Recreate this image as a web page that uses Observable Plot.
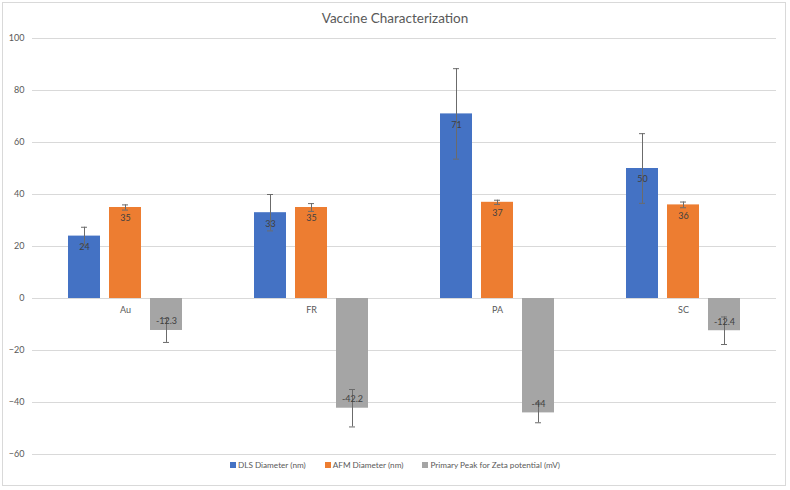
<!DOCTYPE html>
<html>
<head>
<meta charset="utf-8">
<script src="https://cdn.jsdelivr.net/npm/d3@7"></script>
<script src="https://cdn.jsdelivr.net/npm/@observablehq/plot@0.6"></script>
<style>
  html, body { margin: 0; padding: 0; background: #fff; }
  #wrap { position: relative; width: 790px; height: 490px; font-family: Lato, "Open Sans", sans-serif; }
  #border { position: absolute; left: 2px; top: 2px; width: 784px; height: 484px; border: 1px solid #d9d9d9; box-sizing: border-box; }
  #title { position: absolute; left: 0; top: 8px; width: 790px; text-align: center; font-size: 13.5px; color: #595959; line-height: 20px; }
  #chart { position: absolute; left: 0; top: 30px; }
  #legend { position: absolute; left: 0; top: 458px; width: 790px; height: 14px; display: flex; justify-content: center; align-items: center; font-size: 8.2px; color: #595959; }
  .item { display: flex; align-items: center; margin: 0 9.5px; }
  .sw { width: 6px; height: 6px; margin-right: 2px; }
</style>
</head>
<body>
<div id="wrap">
  <div id="border"></div>
  <div id="title">Vaccine Characterization</div>
  <div id="chart"></div>
  <div id="legend"></div>
</div>
<script>
const categories = ["Au", "FR", "PA", "SC"];
const series = ["DLS Diameter (nm)", "AFM Diameter (nm)", "Primary Peak for Zeta potential (mV)"];
const dls = [24, 33, 71, 50];
const dlsErr = [3.4, 7, 17.4, 13.4];
const afm = [35, 35, 37, 36];
const afmErr = [1.0, 1.5, 0.8, 1.1];
const zeta = [-12.3, -42.2, -44, -12.4];
const zetaErr = [4.6, 7.2, 3.8, 5.3];
const yTicks = [-60, -40, -20, 0, 20, 40, 60, 80, 100];
const colors = ["#4472C4", "#ED7D31", "#A5A5A5"];

const values = [dls, afm, zeta];
const errs = [dlsErr, afmErr, zetaErr];
const rows = [];
categories.forEach((c, i) => {
  series.forEach((s, j) => {
    const v = values[j][i], e = errs[j][i];
    rows.push({cat: c, series: s, value: v, lo: v - e, hi: v + e});
  });
});

const chart = Plot.plot({
  width: 790,
  height: 428,
  marginTop: 8,
  marginBottom: 4,
  marginLeft: 30,
  marginRight: 13,
  style: {fontFamily: "Lato, 'Open Sans', sans-serif", fontSize: "9px", color: "#595959", background: "transparent"},
  fx: {domain: categories, padding: 0, axis: null},
  x: {domain: series, paddingInner: 0.22, paddingOuter: 0.87, axis: null},
  y: {domain: [-60, 100], ticks: yTicks, tickSize: 0, tickPadding: 8, label: null},
  color: {domain: series, range: colors},
  marks: [
    Plot.ruleY(yTicks, {y: d => d, stroke: "#d9d9d9", strokeWidth: 1}),
    Plot.barY(rows, {fx: "cat", x: "series", y: "value", fill: "series"}),
    Plot.ruleX(rows, {fx: "cat", x: "series", y1: "lo", y2: "hi", stroke: "#6b6b6b", strokeWidth: 1}),
    Plot.tickY(rows, {fx: "cat", x: "series", y: "lo", stroke: "#6b6b6b", insetLeft: 13, insetRight: 13}),
    Plot.tickY(rows, {fx: "cat", x: "series", y: "hi", stroke: "#6b6b6b", insetLeft: 13, insetRight: 13}),
    Plot.text(rows.filter(d => d.value >= 0), {fx: "cat", x: "series", y: "value", text: d => String(d.value), dy: 11, fill: "#404040", fontSize: 9}),
    Plot.text(rows.filter(d => d.value < 0), {fx: "cat", x: "series", y: "value", text: d => String(d.value), dy: -9, fill: "#404040", fontSize: 9}),
    Plot.text(categories, {fx: d => d, y: 0, text: d => d, dy: 12, fill: "#595959", fontSize: 9})
  ]
});
document.getElementById("chart").appendChild(chart);

const legend = document.getElementById("legend");
series.forEach((s, j) => {
  const it = document.createElement("div");
  it.className = "item";
  const sw = document.createElement("div");
  sw.className = "sw";
  sw.style.background = colors[j];
  const t = document.createElement("span");
  t.textContent = s;
  it.appendChild(sw);
  it.appendChild(t);
  legend.appendChild(it);
});
</script>
</body>
</html>
